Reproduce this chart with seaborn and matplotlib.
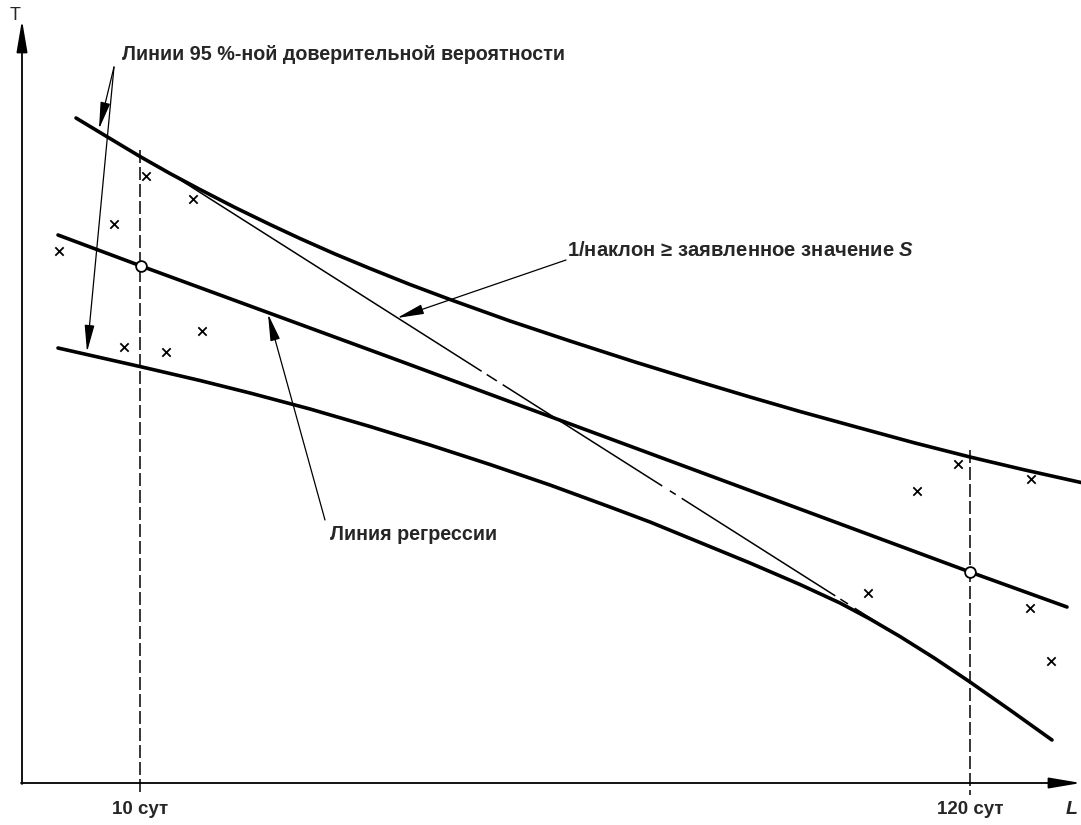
import matplotlib
matplotlib.use("Agg")
import matplotlib.pyplot as plt
import seaborn as sns

# ---- values (picture pixel coordinates, y grows downward) ----
upper_x = [76, 110, 140, 170, 200, 235, 270, 300, 335, 370, 410, 450, 510, 570,
           635, 700, 750, 800, 860, 915, 970, 1025, 1081]
upper_y = [118, 138.5, 156.5, 173.5, 189.5, 207.5, 224.5, 238.5, 254, 268.5, 284.5,
           299.5, 321, 341, 362, 382, 397, 411.5, 428, 443, 457, 470, 482.5]

reg_x = [58, 141, 400, 700, 970, 1067]
reg_y = [235, 266, 361, 472, 572, 607]

lower_x = [58, 100, 142, 200, 250, 310, 370, 430, 490, 550, 610, 650, 700, 750,
           800, 840, 870, 900, 935, 970, 1010, 1052]
lower_y = [348, 357.5, 367, 380.5, 393, 409, 426.5, 445, 464.5, 485, 507, 522,
           542.5, 563, 584.5, 603, 619, 636.5, 658.5, 682, 710, 740]

tangent_x = [160, 878]
tangent_y = [167, 623]

points_x = [59, 114, 146, 193, 124, 166, 202, 868, 917, 958, 1031, 1030, 1051]
points_y = [251, 224, 176, 199, 347, 352, 331, 593, 491, 464, 479, 608, 661]

circle_x = [141, 970]
circle_y = [266, 572]

time_x = [140, 970]
time_top = [150, 450]
time_labels = ["10 сут", "120 сут"]

label_conf = "Линии 95 %-ной доверительной вероятности"
label_slope = "1/наклон ≥ заявленное значение $\\mathit{S}$"
label_reg = "Линия регрессии"
axis_y_label = "T"
axis_x_label = "L"

# ---- drawing ----
sns.set_style("white")
plt.rcParams["font.family"] = ["Liberation Sans", "DejaVu Sans"]
plt.rcParams["mathtext.fontset"] = "custom"
plt.rcParams["mathtext.it"] = "Liberation Sans:italic:bold"
plt.rcParams["mathtext.rm"] = "Liberation Sans:bold"
plt.rcParams["lines.scale_dashes"] = False

W, H = 1081, 825
fig = plt.figure(figsize=(W / 100, H / 100), dpi=100)
ax = fig.add_axes([0, 0, 1, 1])
ax.set_xlim(0, W)
ax.set_ylim(H, 0)
ax.axis("off")

thick = 2.6
for xs, ys in [(upper_x, upper_y), (reg_x, reg_y), (lower_x, lower_y)]:
    sns.lineplot(x=xs, y=ys, sort=False, estimator=None, color="black",
                 linewidth=thick, ax=ax)
for ln in ax.lines:
    ln.set_solid_joinstyle("round")
    ln.set_solid_capstyle("round")

# tangent (dash-dot with long dashes)
px = 0.72
tan_dashes = [381 * px, 6 * px, 12 * px, 7 * px, 189 * px, 9 * px, 7 * px, 7 * px,
              182 * px, 6 * px, 9 * px, 8 * px, 300 * px, 1 * px]
sns.lineplot(x=tangent_x, y=tangent_y, sort=False, estimator=None, color="black",
             linewidth=1.1, ax=ax)
ax.lines[-1].set_dashes(tan_dashes)

# vertical dashed time lines
for xv, yt in zip(time_x, time_top):
    ax.plot([xv, xv], [yt, 795], color="black", linewidth=1.1,
            dashes=(13 * px, 4 * px))

sns.scatterplot(x=points_x, y=points_y, marker="x", s=36, color="black",
                linewidth=1.3, ax=ax)
sns.scatterplot(x=circle_x, y=circle_y, marker="o", s=60, facecolor="white",
                edgecolor="black", linewidth=1.3, ax=ax, zorder=5)

# axes with arrows
axis_arrow = dict(arrowstyle="-|>,head_length=1.3,head_width=0.22", color="black",
                  lw=1.3, shrinkA=0, shrinkB=0, mutation_scale=15)
ax.annotate("", xy=(22, 20), xytext=(22, 784), arrowprops=axis_arrow)
ax.annotate("", xy=(1081, 783), xytext=(21, 783), arrowprops=axis_arrow)
ax.text(15, 15, axis_y_label, fontsize=13, ha="center", va="center")
ax.text(1066, 810, axis_x_label, fontsize=14, style="italic", fontweight="bold",
        ha="left", va="center")

for xv, lab in zip(time_x, time_labels):
    ax.text(xv, 810, lab, fontsize=13.5, fontweight="bold", ha="center", va="center")

# annotation arrows
ann = dict(arrowstyle="-|>,head_length=1.1,head_width=0.2", color="black",
           lw=0.9, shrinkA=0, shrinkB=0, mutation_scale=15)
ax.annotate("", xy=(99, 129), xytext=(114, 67), arrowprops=ann)
ax.annotate("", xy=(87, 352), xytext=(114, 67), arrowprops=ann)
ax.annotate("", xy=(397, 318), xytext=(566, 260), arrowprops=ann)
ax.annotate("", xy=(268, 314), xytext=(325, 520), arrowprops=ann)

fs = 14.2
ax.text(122, 55, label_conf, fontsize=fs, fontweight="bold", ha="left", va="center")
ax.text(567, 251, label_slope, fontsize=14.6, fontweight="bold", ha="left", va="center")
ax.text(330, 535, label_reg, fontsize=fs, fontweight="bold", ha="left", va="center")

fig.savefig("out.png", dpi=100, facecolor="white")
